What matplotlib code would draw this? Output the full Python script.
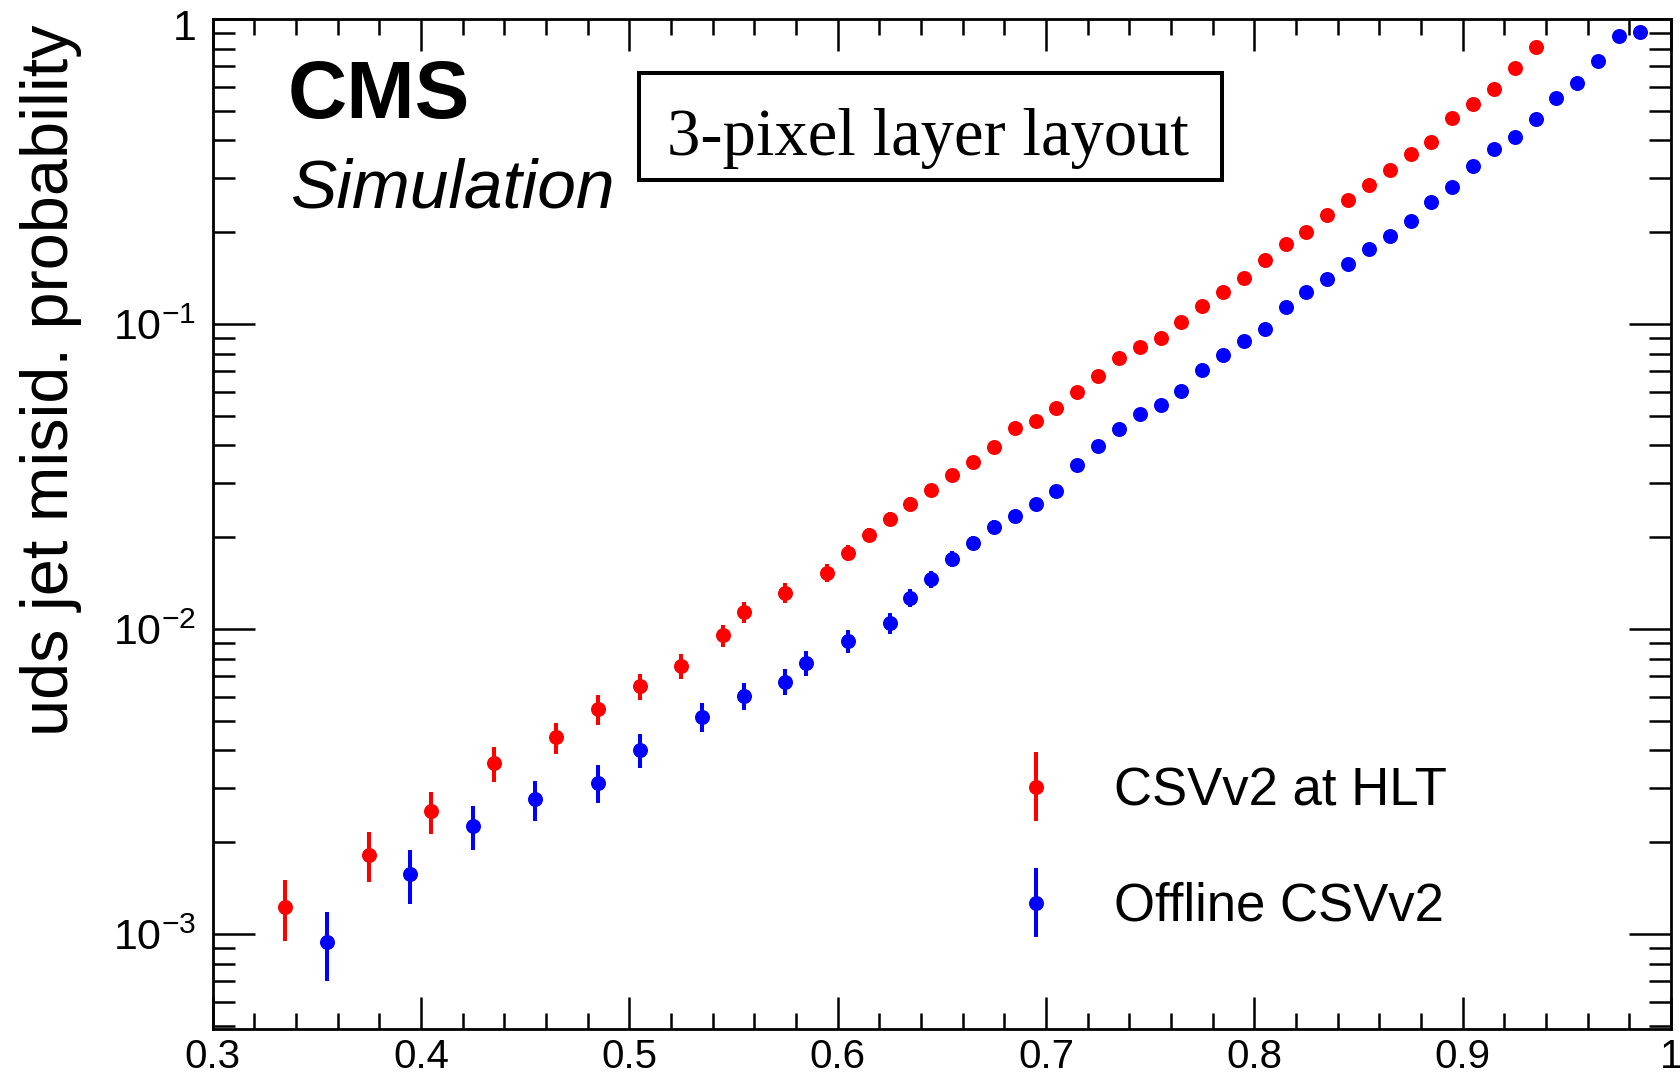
import numpy as np
import matplotlib
matplotlib.use('Agg')
import matplotlib.pyplot as plt
from matplotlib.ticker import FixedLocator, LogLocator, NullFormatter, MultipleLocator, FuncFormatter
from matplotlib.transforms import ScaledTranslation
from matplotlib.legend_handler import HandlerErrorbar
from matplotlib.container import ErrorbarContainer

plt.rcParams['font.family'] = ['Liberation Sans', 'DejaVu Sans']
plt.rcParams['mathtext.fontset'] = 'custom'
plt.rcParams['mathtext.rm'] = 'Liberation Sans'
plt.rcParams['mathtext.it'] = 'Liberation Sans:italic'

# b-jet efficiency (x) vs uds misidentification probability (y)
hlt_eff = [0.335, 0.375, 0.405, 0.435, 0.465, 0.485, 0.505, 0.525, 0.545, 0.555,
           0.575, 0.595, 0.605, 0.615, 0.625, 0.635, 0.645, 0.655, 0.665, 0.675,
           0.685, 0.695, 0.705, 0.715, 0.725, 0.735, 0.745, 0.755, 0.765, 0.775,
           0.785, 0.795, 0.805, 0.815, 0.825, 0.835, 0.845, 0.855, 0.865, 0.875,
           0.885, 0.895, 0.905, 0.915, 0.925, 0.935]
hlt_mis = [1.229e-3, 1.816e-3, 2.531e-3, 3.627e-3, 4.415e-3, 5.455e-3, 6.50e-3, 7.58e-3,
           9.535e-3, 1.134e-2, 1.315e-2, 1.53e-2, 1.775e-2, 2.033e-2, 2.30e-2, 2.575e-2,
           2.86e-2, 3.20e-2, 3.535e-2, 3.95e-2, 4.55e-2, 4.80e-2, 5.315e-2, 5.97e-2,
           6.75e-2, 7.735e-2, 8.42e-2, 8.97e-2, 0.1012, 0.1143, 0.127, 0.142, 0.162,
           0.183, 0.200, 0.227, 0.255, 0.285, 0.321, 0.362, 0.394, 0.474, 0.526,
           0.591, 0.691, 0.811]
hlt_err = [2.8e-4, 3.4e-4, 4.0e-4, 4.7e-4, 5.2e-4, 6.0e-4, 6.3e-4, 7.0e-4, 8.1e-4, 8.8e-4,
           9.6e-4, 1.0e-3, 1.05e-3, 1.1e-3, 1.2e-3, 1.25e-3, 1.3e-3, 1.4e-3, 1.45e-3,
           1.5e-3, 1.6e-3, 1.65e-3, 1.7e-3, 1.8e-3, 1.9e-3, 2.0e-3, 2.1e-3, 2.2e-3,
           2.3e-3, 2.4e-3, 2.5e-3, 2.6e-3, 2.8e-3, 3.0e-3, 3.1e-3, 3.3e-3, 3.5e-3,
           3.7e-3, 3.9e-3, 4.2e-3, 4.4e-3, 4.8e-3, 5.0e-3, 5.3e-3, 5.7e-3, 6.2e-3]

off_eff = [0.355, 0.395, 0.425, 0.455, 0.485, 0.505, 0.535, 0.555, 0.575, 0.585,
           0.605, 0.625, 0.635, 0.645, 0.655, 0.665, 0.675, 0.685, 0.695, 0.705,
           0.715, 0.725, 0.735, 0.745, 0.755, 0.765, 0.775, 0.785, 0.795, 0.805,
           0.815, 0.825, 0.835, 0.845, 0.855, 0.865, 0.875, 0.885, 0.895, 0.905,
           0.915, 0.925, 0.935, 0.945, 0.955, 0.965, 0.975, 0.985]
off_mis = [9.39e-4, 1.569e-3, 2.26e-3, 2.763e-3, 3.13e-3, 4.01e-3, 5.15e-3, 6.03e-3,
           6.72e-3, 7.72e-3, 9.15e-3, 1.044e-2, 1.267e-2, 1.455e-2, 1.70e-2, 1.914e-2,
           2.16e-2, 2.35e-2, 2.565e-2, 2.83e-2, 3.44e-2, 3.98e-2, 4.54e-2, 5.07e-2,
           5.43e-2, 6.03e-2, 7.09e-2, 7.94e-2, 8.82e-2, 9.64e-2, 0.1134, 0.1269,
           0.140, 0.157, 0.176, 0.194, 0.218, 0.251, 0.282, 0.329, 0.376, 0.411,
           0.469, 0.55, 0.618, 0.728, 0.88, 0.909]
off_err = [2.4e-4, 3.1e-4, 3.7e-4, 4.1e-4, 4.4e-4, 5.0e-4, 5.6e-4, 6.0e-4, 6.6e-4, 7.3e-4,
           7.8e-4, 8.4e-4, 8.9e-4, 9.6e-4, 1.0e-3, 1.05e-3, 1.1e-3, 1.15e-3, 1.2e-3,
           1.25e-3, 1.4e-3, 1.5e-3, 1.6e-3, 1.7e-3, 1.75e-3, 1.85e-3, 2.0e-3, 2.1e-3,
           2.2e-3, 2.3e-3, 2.5e-3, 2.6e-3, 2.8e-3, 2.9e-3, 3.1e-3, 3.3e-3, 3.5e-3,
           3.7e-3, 3.9e-3, 4.2e-3, 4.5e-3, 4.7e-3, 5.0e-3, 5.4e-3, 5.7e-3, 6.2e-3,
           6.8e-3, 6.9e-3]

labels = ['CSVv2 at HLT', 'Offline CSVv2']
ytick_vals = [1e-3, 1e-2, 1e-1, 1.0]
ytick_text = [r'$10^{-3}$', r'$10^{-2}$', r'$10^{-1}$', '1']

W, H = 1681, 1076
fig = plt.figure(figsize=(W / 100, H / 100), dpi=100)
ax = fig.add_axes([212.5 / W, 1 - 1028.5 / H, (1671 - 212.5) / W, (1028.5 - 19) / H])

kw = dict(fmt='o', ms=10.8, elinewidth=2.9, capsize=0, mew=0)
h1 = ax.errorbar(hlt_eff, hlt_mis, yerr=hlt_err, color='#ff0000', label=labels[0], **kw)
h2 = ax.errorbar(off_eff, off_mis, yerr=off_err, color='#0000ff', label=labels[1], **kw)

ax.set_yscale('log')
ax.set_xlim(0.3, 1.0)
ax.set_ylim(4.9e-4, 1.0)

ax.xaxis.set_major_locator(MultipleLocator(0.1))
ax.xaxis.set_minor_locator(MultipleLocator(0.02))
ax.xaxis.set_major_formatter(FuncFormatter(lambda v, p: '%g' % round(v, 2)))
ax.yaxis.set_major_locator(FixedLocator(ytick_vals))
ax.set_yticklabels(ytick_text)
ax.yaxis.set_minor_locator(LogLocator(base=10, subs=np.arange(2, 10)))
ax.yaxis.set_minor_formatter(NullFormatter())

for s in ax.spines.values():
    s.set_linewidth(2.0)
ax.tick_params(which='both', direction='in', top=True, right=True, width=1.8)
ax.tick_params(axis='x', which='major', length=23, labelsize=29, pad=7)
ax.tick_params(axis='x', which='minor', length=11.5)
ax.tick_params(axis='y', which='major', length=30, labelsize=31, pad=11.5)
ax.tick_params(axis='y', which='minor', length=15.5)

# ROOT-style: the label at the top of the axis sits a little below the corner
top_lbl = ax.get_yticklabels()[-1]
top_lbl.set_transform(top_lbl.get_transform() + ScaledTranslation(0, -0.06, fig.dpi_scale_trans))

fig.text(51 / W, 1 - 24 / H, 'uds jet misid. probability', rotation=90,
         ha='center', va='top', fontsize=48)

fig.text(288 / W, 1 - 118 / H, 'CMS', fontsize=59, fontweight='bold', va='baseline')
fig.text(290 / W, 1 - 207 / H, 'Simulation', fontsize=50, style='italic', va='baseline')

fig.add_artist(plt.Rectangle((639 / W, 1 - 180 / H), 583 / W, 107 / H,
                             transform=fig.transFigure, fill=False, lw=2.9, ec='black'))
fig.text(928 / W, 1 - 155 / H, '3-pixel layer layout', fontsize=48,
         family='Liberation Serif', ha='center', va='baseline')

ax.legend(handles=[h1, h2], labels=labels, loc='upper left', frameon=False,
          bbox_to_anchor=(1010 / W, 1 - 766 / H), bbox_transform=fig.transFigure,
          fontsize=38, numpoints=1, handlelength=1.0, handletextpad=0.98,
          labelspacing=1.25, borderpad=0, borderaxespad=0,
          handler_map={ErrorbarContainer: HandlerErrorbar(yerr_size=0.645)})

fig.savefig('out.png', dpi=100)
